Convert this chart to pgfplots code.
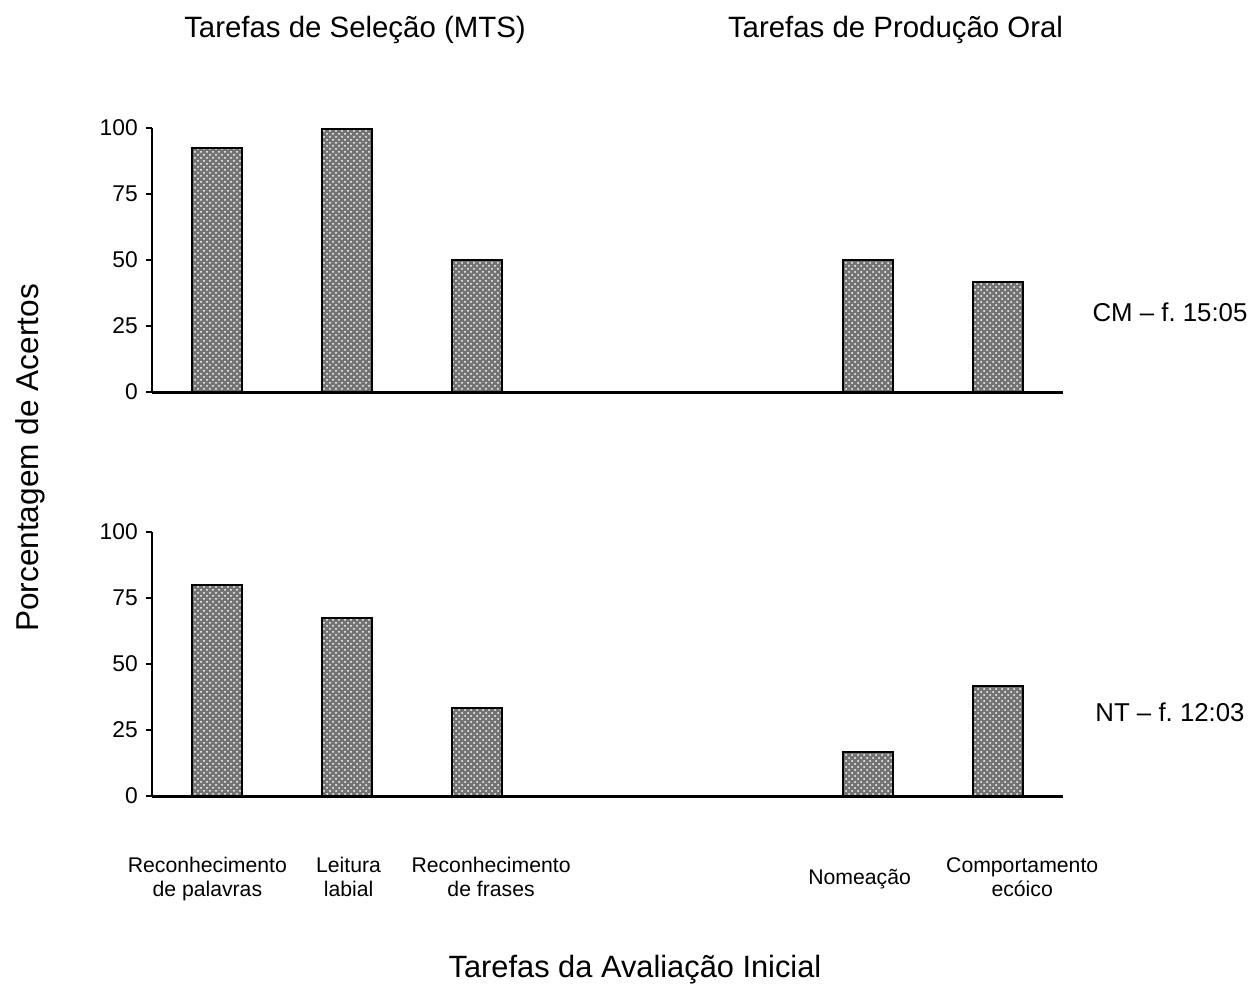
\documentclass[border=0pt]{standalone}
\usepackage{pgfplots}
\pgfplotsset{compat=1.18}
\usepackage{fontspec}
\setmainfont{Liberation Sans}
\usetikzlibrary{patterns}

\pgfplotstableread{
x y
0 92.4
1 99.6
2 50
5 50
6 41.7
}\topdata
\pgfplotstableread{
x y
0 79.8
1 67.3
2 33.2
5 16.7
6 41.7
}\botdata

\begin{document}
\begin{tikzpicture}[x=1pt,y=1pt]
\useasboundingbox (0,0) rectangle (628.5,-494.5);
\pgfplotsset{
  myax/.style={
    scale only axis, width=455.5pt, height=132pt,
    xmin=-0.5, xmax=6.5, ymin=0, ymax=100,
    axis lines*=left,
    x axis line style={line width=1.5pt},
    y axis line style={line width=1pt},
    ytick={0,25,50,75,100},
    xtick={0,1,2,5,6},
    xtick style={draw=none},
    ytick style={line width=1pt, black},
    tick align=outside,
    major tick length=3pt,
    /pgf/number format/assume math mode=true,
    yticklabel style={font=\fontsize{11.4}{13}\selectfont, xshift=-0.5pt},
    clip=false,
    ybar, bar width=25pt,
  },
  mybar/.style={draw=black, line width=1pt, fill=black!55,
    postaction={pattern=crosshatch dots, pattern color=white}},
}

\begin{axis}[myax, at={(75.9pt,-196pt)}, anchor=south west, xticklabels={}]
\addplot[mybar] table[x=x,y=y]{\topdata};
\end{axis}

\begin{axis}[myax, at={(75.9pt,-398pt)}, anchor=south west,
  xtick={-0.073,1.012,2.107,4.939,6.188},
  xticklabels={{Reconhecimento\\de palavras},{Leitura\\labial},{Reconhecimento\\de frases},{\raisebox{6pt}{Nomeação}},{Comportamento\\ecóico}},
  xticklabel style={align=center, anchor=base, yshift=-47pt, font=\fontsize{10.6}{12}\selectfont}]
\addplot[mybar] table[x=x,y=y]{\botdata};
\end{axis}

\node[font=\fontsize{14.7}{17}\selectfont] at (177.5,-15) {Tarefas de Seleção (MTS)};
\node[font=\fontsize{14.7}{17}\selectfont] at (447.75,-15) {Tarefas de Produção Oral};
\node[font=\fontsize{15.8}{18}\selectfont, rotate=90] at (15,-229) {Porcentagem de Acertos};
\node[font=\fontsize{15.4}{18}\selectfont] at (317.5,-485) {Tarefas da Avaliação Inicial};
\node[font=\fontsize{12.9}{15}\selectfont] at (585,-156) {CM – f.\ 15:05};
\node[font=\fontsize{12.9}{15}\selectfont] at (585,-356) {NT – f.\ 12:03};
\end{tikzpicture}
\end{document}
